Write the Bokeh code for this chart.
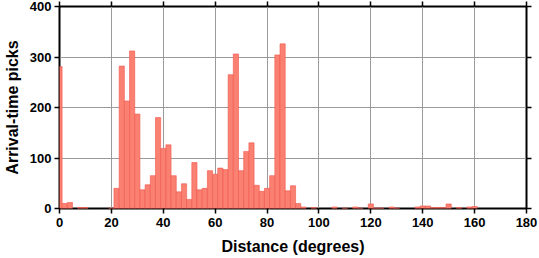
from bokeh.plotting import figure
from bokeh.models import LinearAxis, FixedTicker, ColumnDataSource, CustomLabelingPolicy
from bokeh.embed import file_html
from bokeh.resources import INLINE

# Histogram of arrival-time picks vs. epicentral distance (2-degree bins centered on even degrees)
bin_centers = [0, 2, 4, 6, 8, 10, 12, 14, 16, 18,
               20, 22, 24, 26, 28, 30, 32, 34, 36, 38,
               40, 42, 44, 46, 48, 50, 52, 54, 56, 58,
               60, 62, 64, 66, 68, 70, 72, 74, 76, 78,
               80, 82, 84, 86, 88, 90, 92, 94, 96, 98,
               100, 102, 104, 106, 108, 110, 112, 114, 116, 118,
               120, 122, 124, 126, 128, 130, 132, 134, 136, 138,
               140, 142, 144, 146, 148, 150, 152, 154, 156, 158,
               160, 162, 164, 166, 168, 170, 172, 174, 176, 178, 180]
counts = [281, 10, 12, 0, 2, 2, 0, 0, 0, 0,
          1, 40, 282, 213, 312, 187, 37, 47, 65, 180,
          119, 126, 65, 33, 49, 18, 91, 37, 40, 75,
          68, 80, 77, 265, 306, 75, 113, 130, 46, 34,
          40, 65, 304, 326, 35, 45, 10, 3, 0, 2,
          0, 0, 0, 3, 0, 1, 0, 3, 1, 0,
          9, 1, 1, 0, 3, 1, 0, 0, 0, 3,
          5, 5, 2, 2, 2, 9, 0, 2, 0, 3,
          4, 0, 0, 0, 0, 0, 0, 0, 0, 0, 0]
x_ticks = [0, 20, 40, 60, 80, 100, 120, 140, 160, 180]
y_ticks = [0, 100, 200, 300, 400]
bin_width = 2
x_label = "Distance (degrees)"
y_label = "Arrival-time picks"

nz = [(c, n) for c, n in zip(bin_centers, counts) if n > 0]
src = ColumnDataSource(dict(x=[c for c, _ in nz], top=[n for _, n in nz]))

FONT = "Liberation Sans"

p = figure(width=539, height=258, x_range=(0, 180), y_range=(0, 400),
           output_backend="svg", toolbar_location=None,
           min_border_left=58, min_border_right=13, min_border_top=6, min_border_bottom=50,
           background_fill_color="white", border_fill_color="white")

p.vbar(x="x", top="top", bottom=0, width=bin_width, source=src,
       fill_color="#fa8072", line_color="#f0564c", line_width=0.6)

p.outline_line_color = "black"
p.outline_line_width = 2
p.outline_line_alpha = 1

p.xgrid.ticker = FixedTicker(ticks=x_ticks)
p.ygrid.ticker = FixedTicker(ticks=y_ticks)
p.grid.grid_line_color = "#9a9a9a"
p.grid.grid_line_width = 1

no_labels = CustomLabelingPolicy(code="""
const all = Array.from(indices)
for (const i of all) indices.unset(i)
return indices
""")

def style(ax, labels=True):
    ax.axis_line_color = None
    ax.major_tick_out = 5
    ax.major_tick_in = 0
    ax.major_tick_line_color = "black"
    ax.major_tick_line_width = 1.5
    ax.minor_tick_line_color = None
    if labels:
        ax.major_label_text_font = FONT
        ax.major_label_text_font_style = "bold"
        ax.major_label_text_font_size = "13px"
        ax.major_label_text_color = "black"
        ax.axis_label_text_font = FONT
        ax.axis_label_text_font_style = "bold"
        ax.axis_label_text_font_size = "16px"
        ax.axis_label_text_color = "black"
    else:
        ax.major_label_text_font_size = "0px"
        ax.major_label_standoff = 0
        ax.major_label_policy = no_labels

p.xaxis.ticker = FixedTicker(ticks=x_ticks)
p.yaxis.ticker = FixedTicker(ticks=y_ticks)
p.xaxis.axis_label = x_label
p.yaxis.axis_label = y_label
style(p.xaxis[0])
style(p.yaxis[0])
p.xaxis.major_label_standoff = 4
p.xaxis.axis_label_standoff = 8
p.yaxis.major_label_standoff = 3
p.yaxis.axis_label_standoff = 6

top_ax = LinearAxis(ticker=FixedTicker(ticks=x_ticks))
right_ax = LinearAxis(ticker=FixedTicker(ticks=y_ticks))
style(top_ax, labels=False)
style(right_ax, labels=False)
p.add_layout(top_ax, "above")
p.add_layout(right_ax, "right")

open("out.html", "w").write(file_html(p, INLINE))
